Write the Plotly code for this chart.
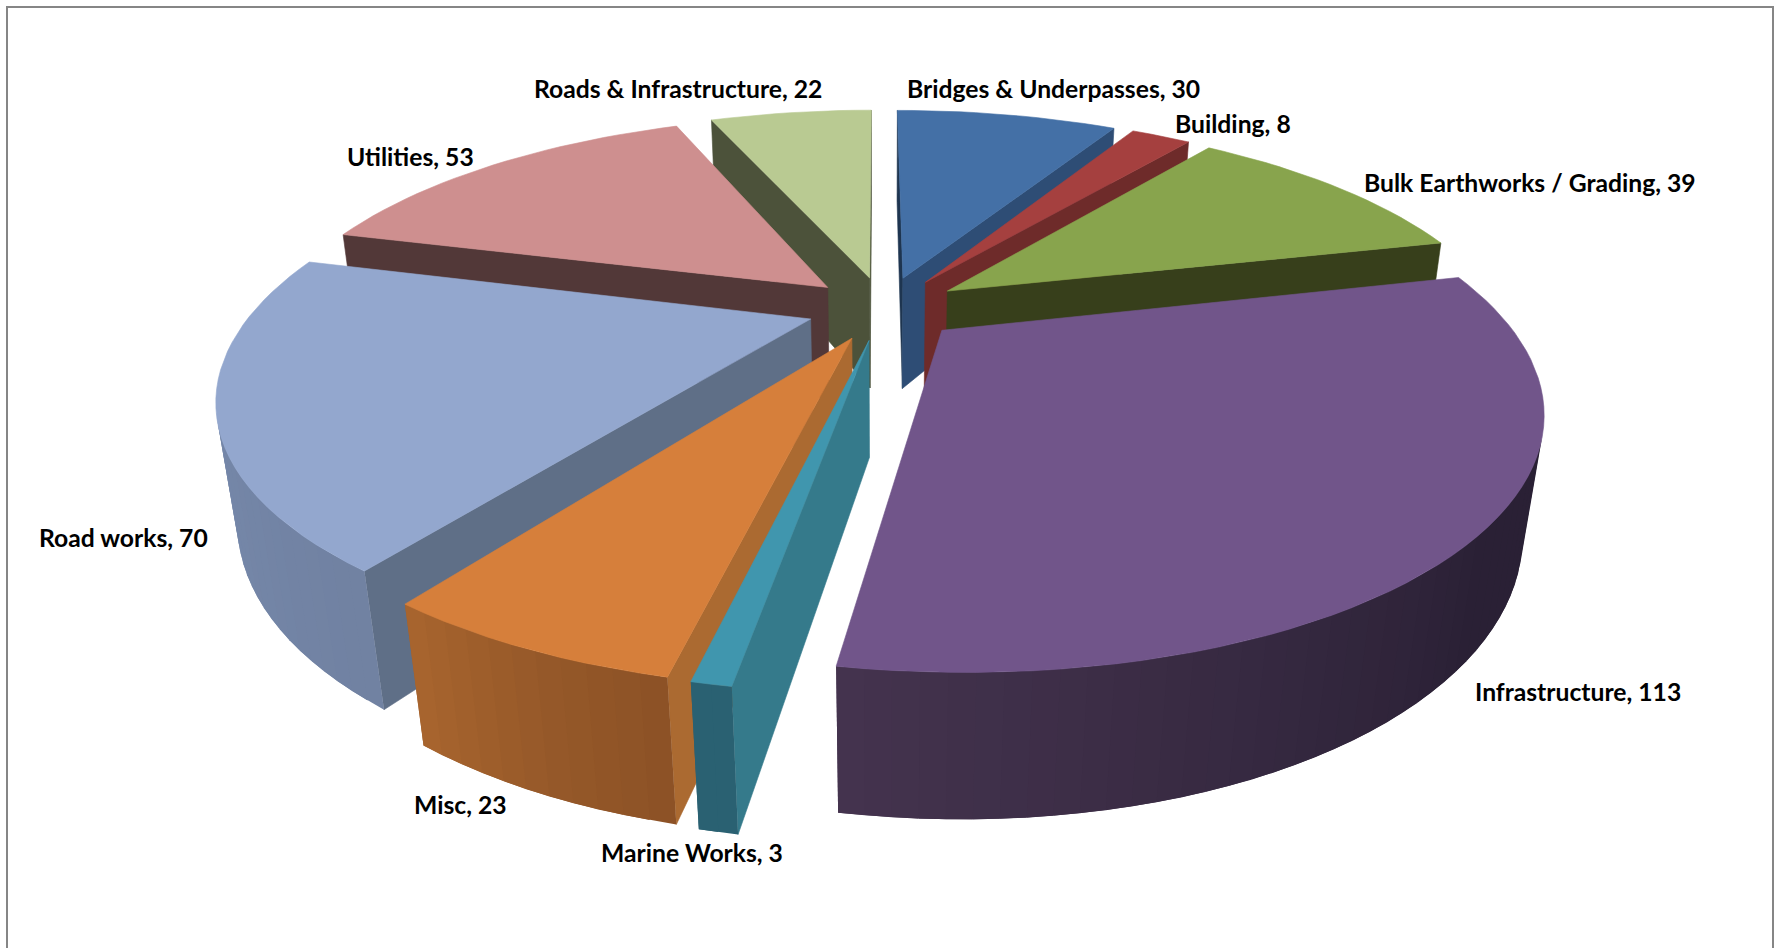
import numpy as np
import plotly.graph_objects as go

categories = ['Bridges & Underpasses', 'Building', 'Bulk Earthworks / Grading', 'Infrastructure',
              'Marine Works', 'Misc', 'Road works', 'Utilities', 'Roads & Infrastructure']
values = [30, 8, 39, 113, 3, 23, 70, 53, 22]

# colours per slice
top_colors = ['#4470A6', '#A5403F', '#88A44D', '#71558A', '#4096AE', '#D67F3B', '#93A7CE', '#CE8F8F', '#B9CA92']
start_wall = ['#1E3550', '#6E2B2A', '#373F1B', '#2A2036', '#357A8B', '#AB6A31', '#5F6F87', '#523838', '#4C523A']
end_wall = ['#2E4D75', '#6E2B2A', '#373F1B', '#2A2036', '#2A6070', '#8C5226', '#5F6F87', '#523838', '#4C523A']
outer_colors = [['#2E4D75'] * 3, ['#6E2B2A'] * 3, ['#373F1B'] * 3,
                ['#2A2034', '#2B2136', '#45344F'], ['#2A6172', '#2A6172', '#2A6172'],
                ['#8C5226', '#985A2A', '#A9662F'], ['#7182A2', '#7688AA', '#8497BA'],
                ['#523838'] * 3, ['#4C523A'] * 3]

label_x = [1053, 1233, 1530, 1578, 692, 460, 123, 410, 678]
label_y = [88, 123, 182, 691, 852, 804, 537, 156, 88]

# camera for the tilted pie
cx, cy = 884, 308
g = 570
tilt_s, tilt_c = 0.414, 0.910
depth = 3.14
thick = 0.225
explode = 0.135
radius = 0.975
rot = -0.2


def project(X, Y, Z):
    zc = depth + Y * tilt_c - Z * tilt_s
    xc = X
    yc = Y * tilt_s + Z * tilt_c
    return cx + g * depth * xc / zc, cy - g * depth * yc / zc


def hex2rgb(h):
    return np.array([int(h[i:i + 2], 16) for i in (1, 3, 5)], dtype=float)


def area(xs, ys):
    return 0.5 * sum(xs[i] * ys[(i + 1) % len(xs)] - xs[(i + 1) % len(xs)] * ys[i] for i in range(len(xs)))


fig = go.Figure()


def add_poly(xs, ys, color, width=0.6):
    fig.add_trace(go.Scatter(x=list(xs) + [xs[0]], y=list(ys) + [ys[0]], mode='lines', fill='toself',
                             fillcolor=color, line=dict(color=color, width=width),
                             hoverinfo='skip', showlegend=False))


total = sum(values)
edges = np.concatenate([[0], np.cumsum(values)]) * 360 / total + rot
mids = (edges[:-1] + edges[1:]) / 2

# far slices first
order = np.argsort(-np.cos(np.radians(mids)))

for i in order:
    a0, a1, mid = edges[i], edges[i + 1], mids[i]
    ox = explode * np.sin(np.radians(mid))
    oy = explode * np.cos(np.radians(mid))
    n = max(int((a1 - a0) / 2), 2)
    th = np.radians(np.linspace(a0, a1, n + 1))
    rx = ox + radius * np.sin(th)
    ry = oy + radius * np.cos(th)
    tx, ty = project(rx, ry, 0)
    bx, by = project(rx, ry, -thick)
    ax, ay = project(ox, oy, 0)
    dx, dy = project(ox, oy, -thick)

    # radial walls
    qx = [ax, tx[0], bx[0], dx]
    qy = [ay, ty[0], by[0], dy]
    if area(qx, qy) < 0:
        add_poly(qx, qy, start_wall[i])
    qx = [ax, tx[-1], bx[-1], dx]
    qy = [ay, ty[-1], by[-1], dy]
    if area(qx, qy) > 0:
        add_poly(qx, qy, end_wall[i])

    # rim wall, shaded in small strips that overlap the next one so no seams show
    stops = [hex2rgb(c) for c in outer_colors[i]]
    for j in range(n):
        qx = [tx[j], tx[j + 1], bx[j + 1], bx[j]]
        qy = [ty[j], ty[j + 1], by[j + 1], by[j]]
        if area(qx, qy) < 0:
            t = (j + 0.5) / n
            c = [np.interp(t, [0, 0.5, 1], [s[ch] for s in stops]) for ch in range(3)]
            jn = min(j + 2, n)
            qx = [tx[j], tx[jn], bx[jn], bx[j]]
            qy = [ty[j], ty[jn], by[jn], by[j]]
            add_poly(qx, qy, 'rgb(%d,%d,%d)' % tuple(c), width=0)

    add_poly([ax] + list(tx), [ay] + list(ty), top_colors[i])

for name, val, x, y in zip(categories, values, label_x, label_y):
    fig.add_annotation(x=x, y=y, text=f'{name}, {val}', showarrow=False, xanchor='center', yanchor='middle',
                       font=dict(family='Lato', size=24.7, color='black', weight='bold'))

fig.update_layout(
    width=1774, height=948, margin=dict(l=0, r=0, t=0, b=0),
    paper_bgcolor='white', plot_bgcolor='white',
    xaxis=dict(range=[0, 1774], visible=False, fixedrange=True),
    yaxis=dict(range=[948, 0], visible=False, fixedrange=True),
    shapes=[dict(type='rect', xref='paper', yref='paper', x0=7 / 1774, x1=1773 / 1774, y0=-0.05, y1=1 - 7 / 948,
                 line=dict(color='#868686', width=2), layer='below')],
)
fig.write_html('out.html', config=dict(displayModeBar=False),
               post_script="document.body.style.margin='0';document.body.style.overflow='hidden';")
